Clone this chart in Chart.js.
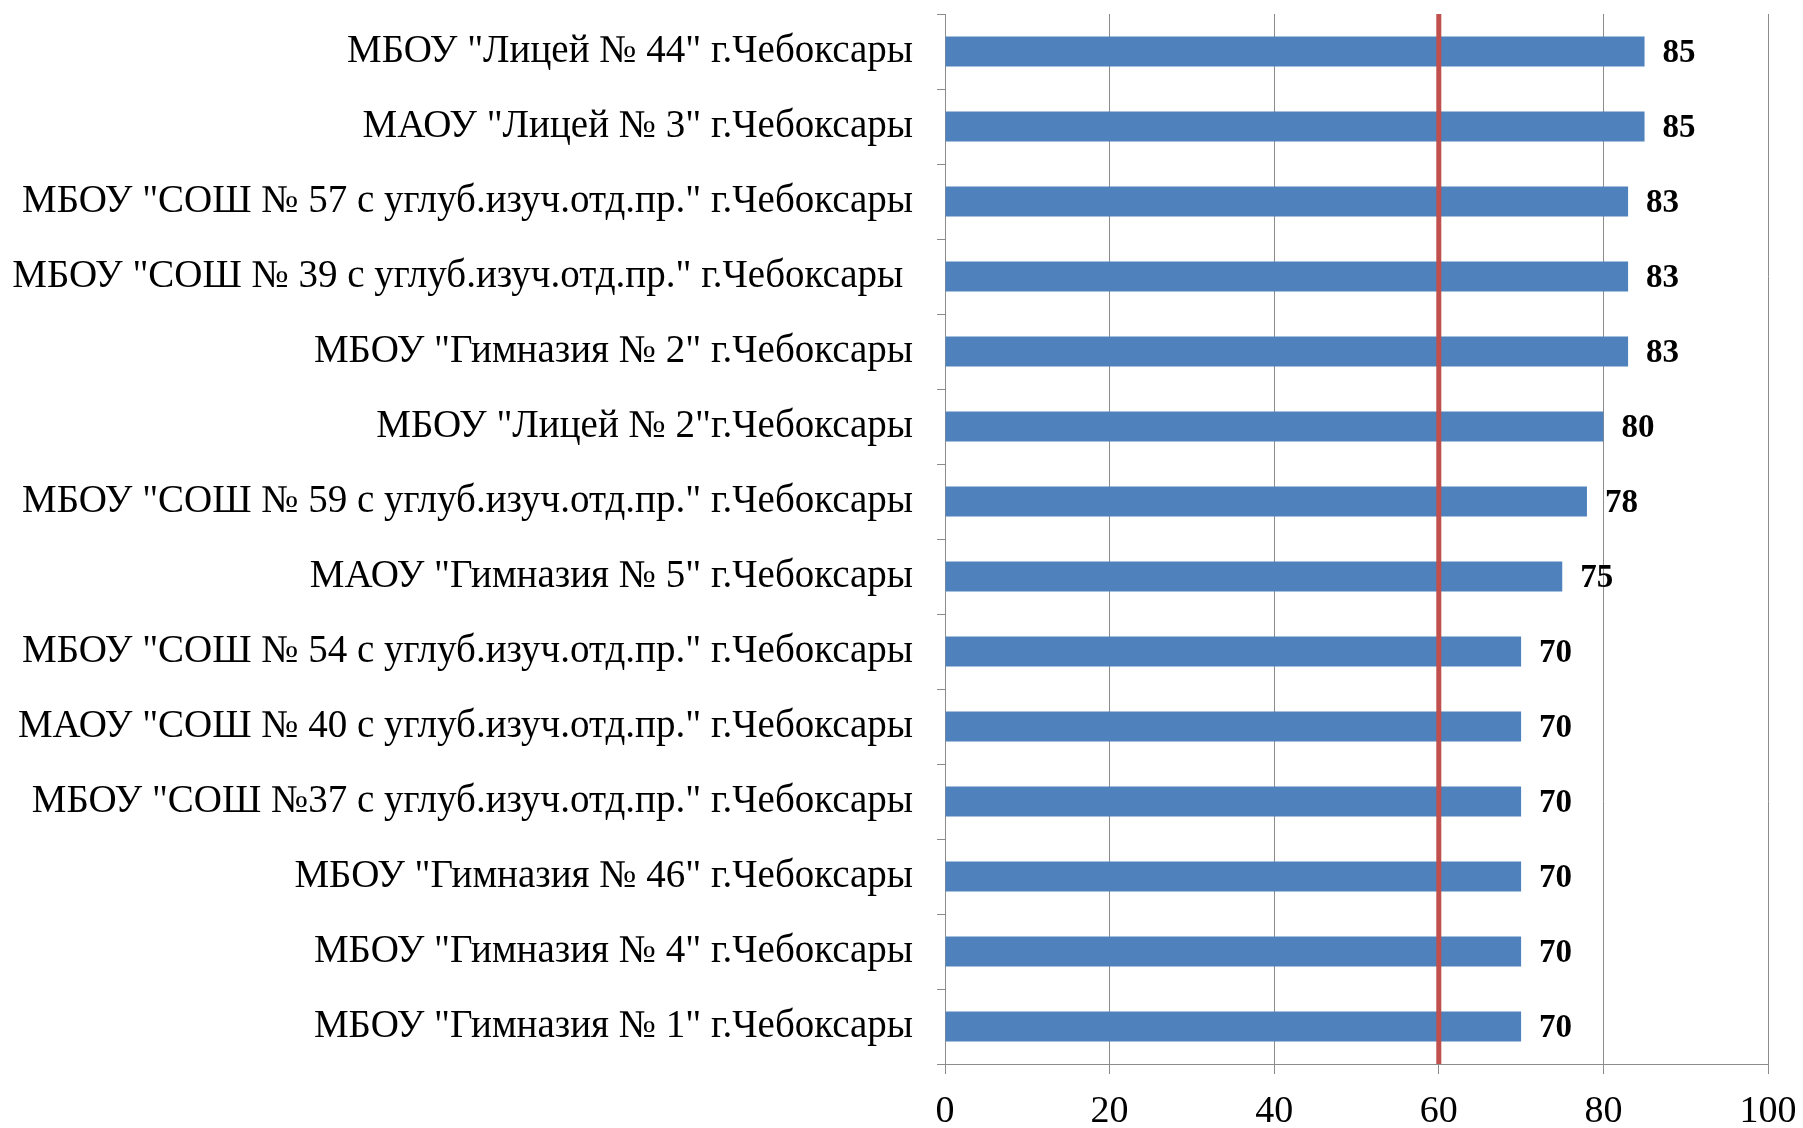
<!DOCTYPE html>
<html>
<head>
<meta charset="utf-8">
<script src="https://cdn.jsdelivr.net/npm/chart.js@4.4.1/dist/chart.umd.min.js"></script>
<style>
  html, body { margin: 0; padding: 0; background: #fff; }
  #wrap { width: 1803px; height: 1128px; }
</style>
</head>
<body>
<div id="wrap"><canvas id="chart" width="1803" height="1128"></canvas></div>
<script>
// --- data ---
const schools = [
    'МБОУ "Лицей № 44" г.Чебоксары',
    'МАОУ "Лицей № 3" г.Чебоксары',
    'МБОУ "СОШ № 57 с углуб.изуч.отд.пр." г.Чебоксары',
    'МБОУ "СОШ № 39 с углуб.изуч.отд.пр." г.Чебоксары ',
    'МБОУ "Гимназия № 2" г.Чебоксары',
    'МБОУ "Лицей № 2"г.Чебоксары',
    'МБОУ "СОШ № 59 с углуб.изуч.отд.пр." г.Чебоксары',
    'МАОУ "Гимназия № 5" г.Чебоксары',
    'МБОУ "СОШ № 54 с углуб.изуч.отд.пр." г.Чебоксары',
    'МАОУ "СОШ № 40 с углуб.изуч.отд.пр." г.Чебоксары',
    'МБОУ "СОШ №37 с углуб.изуч.отд.пр." г.Чебоксары',
    'МБОУ "Гимназия № 46" г.Чебоксары',
    'МБОУ "Гимназия № 4" г.Чебоксары',
    'МБОУ "Гимназия № 1" г.Чебоксары'
];
const scores = [85, 85, 83, 83, 83, 80, 78, 75, 70, 70, 70, 70, 70, 70];
const xMin = 0;
const xMax = 100;
const xStep = 20;
const thresholdValue = 60; // red reference line

const fontFamily = '"Liberation Serif", "Times New Roman", serif';

// red vertical line drawn on top of the bars
const thresholdLine = {
    id: 'thresholdLine',
    afterDatasetsDraw(chart) {
        const { ctx, chartArea, scales } = chart;
        const x = scales.x.getPixelForValue(thresholdValue);
        ctx.save();
        ctx.strokeStyle = '#c0504d';
        ctx.lineWidth = 5;
        ctx.beginPath();
        ctx.moveTo(x, chartArea.top);
        ctx.lineTo(x, chartArea.bottom);
        ctx.stroke();
        ctx.restore();
    }
};

// bold value labels at the end of each bar
const valueLabels = {
    id: 'valueLabels',
    afterDraw(chart) {
        const { ctx } = chart;
        const meta = chart.getDatasetMeta(0);
        ctx.save();
        ctx.font = 'bold 33px ' + fontFamily;
        ctx.fillStyle = '#000';
        ctx.textAlign = 'left';
        ctx.textBaseline = 'middle';
        meta.data.forEach((bar, i) => {
            ctx.fillText(String(scores[i]), bar.x + 18, bar.y + 2);
        });
        ctx.restore();
    }
};

const ctx = document.getElementById('chart').getContext('2d');
new Chart(ctx, {
    type: 'bar',
    data: {
        labels: schools,
        datasets: [{
            data: scores,
            backgroundColor: '#4f81bd',
            borderWidth: 0,
            barPercentage: 0.4,
            categoryPercentage: 1.0
        }]
    },
    options: {
        indexAxis: 'y',
        responsive: false,
        animation: false,
        layout: { padding: { top: 14, right: 35, left: 0, bottom: 0 } },
        plugins: {
            legend: { display: false },
            tooltip: { enabled: false }
        },
        scales: {
            x: {
                min: xMin,
                max: xMax,
                ticks: {
                    stepSize: xStep,
                    color: '#000',
                    padding: 15,
                    font: { family: fontFamily, size: 38 }
                },
                grid: { color: '#8c8c8c', lineWidth: 1, tickLength: 10 },
                border: { color: '#8c8c8c', width: 1 },
                afterFit(scale) {
                    scale.height = 64;
                    scale.paddingRight = 0;
                    scale.paddingLeft = 0;
                }
            },
            y: {
                ticks: {
                    color: '#000',
                    padding: 24,
                    autoSkip: false,
                    font: { family: fontFamily, size: 39 }
                },
                grid: {
                    offset: true,
                    drawOnChartArea: false,
                    color: '#8c8c8c',
                    tickLength: 8
                },
                border: { color: '#8c8c8c', width: 1 },
                afterFit(scale) {
                    scale.width = 945;
                    scale.paddingTop = 0;
                    scale.paddingBottom = 0;
                }
            }
        }
    },
    plugins: [thresholdLine, valueLabels]
});
</script>
</body>
</html>
